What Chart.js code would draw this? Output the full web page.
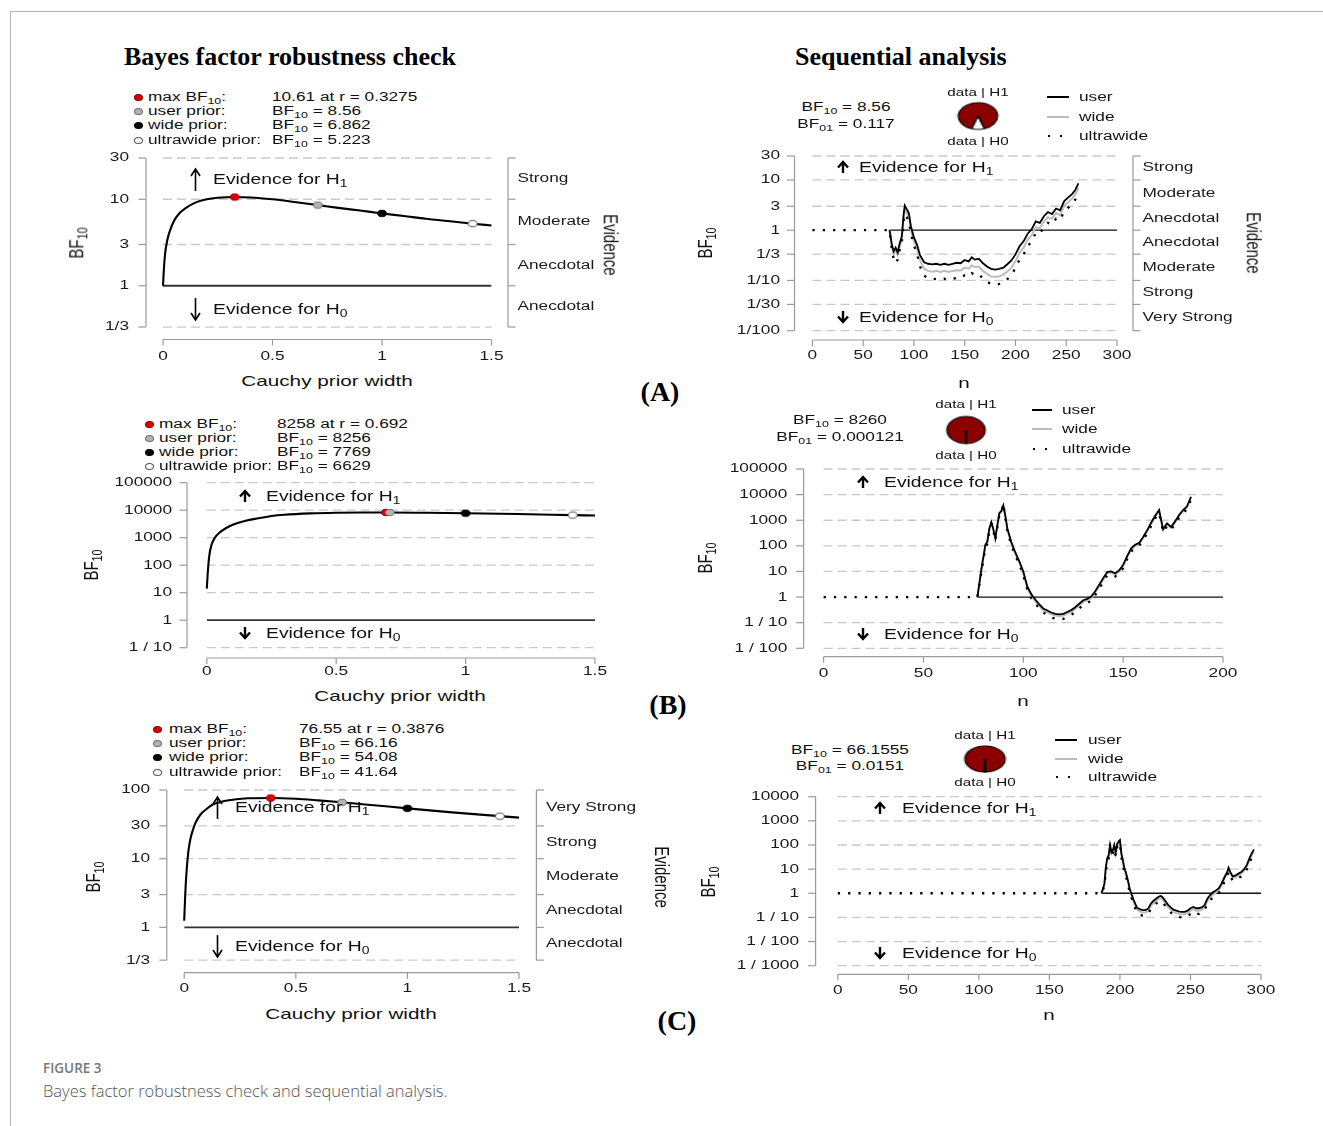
<!DOCTYPE html>
<html>
<head>
<meta charset="utf-8">
<title>Bayes factor robustness check and sequential analysis</title>
<script src="https://cdn.jsdelivr.net/npm/chart.js"></script>
<style>
  body { margin: 0; background: #fff; }
  #page { position: relative; width: 1323px; height: 1126px; overflow: hidden; background: #fff; }
  #page canvas { position: absolute; }
  .t { position: absolute; width: 0; height: 0; }
  .t span { position: absolute; left: 0; top: 0; white-space: nowrap; transform-origin: 0 0; line-height: 1.2; }
  sub { font-size: 72%; vertical-align: -0.28em; line-height: 0; }
  .frame-top { position: absolute; left: 10px; top: 11px; width: 1313px; height: 0; border-top: 1px solid #b3b3b3; }
  .frame-left { position: absolute; left: 10px; top: 11px; width: 0; height: 1115px; border-left: 1px solid #b3b3b3; }
</style>
</head>
<body>
<div id="page">
  <div class="frame-top"></div>
  <div class="frame-left"></div>
</div>
<script>
// ---- robustness check: BF10 against Cauchy prior width r ----
const rA = [0, 0.005, 0.01, 0.02, 0.03, 0.05, 0.075, 0.1, 0.15, 0.2, 0.25, 0.3275, 0.4, 0.5, 0.6, 0.707, 0.8, 0.9, 1.0, 1.1, 1.2, 1.3, 1.414, 1.5];
const bfA = [1, 1.7, 2.4, 3.4, 4.2, 5.6, 6.9, 7.8, 9.2, 10.0, 10.4, 10.61, 10.5, 10.0, 9.3, 8.56, 7.95, 7.4, 6.862, 6.4, 5.95, 5.6, 5.223, 4.97];
const rB = [0, 0.004, 0.01, 0.018, 0.03, 0.05, 0.075, 0.1, 0.15, 0.2, 0.25, 0.3, 0.4, 0.5, 0.6, 0.692, 0.707, 0.85, 1.0, 1.2, 1.414, 1.5];
const bfB = [14, 58, 235, 540, 960, 1550, 2250, 2950, 4150, 5100, 6150, 6850, 7650, 8050, 8220, 8258, 8256, 8050, 7769, 7250, 6629, 6400];
const rC = [0, 0.005, 0.011, 0.019, 0.028, 0.037, 0.05, 0.073, 0.1, 0.126, 0.16, 0.2, 0.285, 0.3876, 0.5, 0.6, 0.707, 0.85, 1.0, 1.2, 1.414, 1.5];
const bfC = [1.25, 3.2, 6.8, 13, 19.5, 25, 33, 44, 53, 61, 66.5, 71, 75.8, 76.55, 74.6, 70.7, 66.16, 60, 54.08, 47.3, 41.64, 39.6];

// marked priors: max, user, wide, ultrawide
const priorNames = ['max BF<sub>10</sub>:', 'user prior:', 'wide prior:', 'ultrawide prior:'];
const ptRA = [0.3275, 0.707, 1, 1.414];
const ptBfA = [10.61, 8.56, 6.862, 5.223];
const ptRB = [0.692, 0.707, 1, 1.414];
const ptBfB = [8258, 8256, 7769, 6629];
const ptRC = [0.3876, 0.707, 1, 1.414];
const ptBfC = [76.55, 66.16, 54.08, 41.64];

// ---- sequential analysis: BF10 against n ----
const nA = [0, 76, 78, 80, 82, 84, 86, 88, 90, 91, 93, 95, 97, 100, 103, 106, 110, 114, 118, 122, 126, 130, 134, 138, 142, 146, 150, 154, 157, 160, 164, 168, 172, 176, 180, 184, 188, 192, 196, 200, 204, 208, 212, 216, 220, 224, 228, 232, 236, 240, 244, 248, 252, 256, 259, 262];
const userA = [null, 1, 0.55, 0.38, 0.45, 0.36, 0.55, 0.75, 2.2, 3.1, 2.6, 2.2, 1.2, 0.72, 0.52, 0.32, 0.23, 0.215, 0.21, 0.215, 0.205, 0.215, 0.205, 0.215, 0.225, 0.22, 0.255, 0.24, 0.29, 0.26, 0.27, 0.22, 0.19, 0.17, 0.165, 0.17, 0.18, 0.21, 0.25, 0.33, 0.48, 0.6, 0.85, 1.05, 1.5, 1.4, 1.9, 2.3, 2.1, 2.7, 2.5, 3.8, 4.5, 5.3, 6.4, 8.56];
const wideA = [null, 1, 0.5, 0.33, 0.4, 0.32, 0.48, 0.65, 1.9, 2.6, 2.2, 1.8, 1.0, 0.6, 0.42, 0.25, 0.17, 0.155, 0.15, 0.155, 0.148, 0.155, 0.148, 0.155, 0.16, 0.158, 0.18, 0.172, 0.2, 0.185, 0.19, 0.155, 0.135, 0.12, 0.118, 0.12, 0.13, 0.15, 0.18, 0.24, 0.35, 0.45, 0.65, 0.8, 1.15, 1.1, 1.5, 1.8, 1.7, 2.2, 2.0, 3.1, 3.6, 4.3, 5.2, 6.86];
const ultraA = [1, 1, 0.45, 0.27, 0.22, 0.26, 0.4, 0.55, 1.6, 2.1, 1.8, 1.5, 0.85, 0.5, 0.34, 0.19, 0.125, 0.11, 0.105, 0.108, 0.103, 0.108, 0.102, 0.108, 0.112, 0.11, 0.127, 0.12, 0.14, 0.13, 0.135, 0.108, 0.094, 0.085, 0.082, 0.085, 0.092, 0.106, 0.13, 0.175, 0.26, 0.33, 0.48, 0.6, 0.88, 0.85, 1.15, 1.4, 1.3, 1.7, 1.6, 2.4, 2.8, 3.4, 4.1, 5.22];
const refA = [76, 300];

const nB = [0, 77, 79, 81, 82, 83, 84, 85, 86, 87, 88, 89, 90, 91, 92, 93, 94, 96, 98, 100, 102, 104, 106, 108, 110, 112, 114, 116, 118, 120, 122, 124, 126, 128, 130, 132, 134, 136, 138, 140, 142, 144, 146, 148, 150, 152, 154, 156, 158, 160, 162, 164, 166, 168, 170, 172, 174, 176, 178, 180, 182, 184];
const userB = [null, 1, 12, 110, 150, 480, 850, 450, 200, 650, 1900, 2300, 3800, 1500, 480, 260, 140, 55, 25, 10, 2.6, 1.3, 0.8, 0.52, 0.36, 0.3, 0.25, 0.22, 0.21, 0.22, 0.26, 0.31, 0.4, 0.55, 0.75, 0.85, 1.05, 1.7, 3, 5.5, 9.5, 10, 8.5, 11, 18, 40, 80, 110, 130, 220, 400, 800, 1500, 2500, 450, 750, 550, 900, 1600, 2500, 3500, 8260];
const wideB = [null, 1, 11, 100, 135, 430, 780, 400, 180, 600, 1750, 2100, 3500, 1350, 430, 230, 125, 48, 22, 8.5, 2.3, 1.15, 0.68, 0.45, 0.31, 0.25, 0.21, 0.19, 0.18, 0.19, 0.22, 0.26, 0.34, 0.47, 0.65, 0.74, 0.92, 1.5, 2.6, 4.8, 8.5, 9, 7.6, 10, 16, 36, 72, 100, 118, 200, 360, 720, 1350, 2250, 400, 680, 500, 820, 1450, 2250, 3150, 7769];
const ultraB = [1, 1, 9, 85, 120, 380, 700, 380, 160, 520, 1600, 2000, 4500, 1200, 380, 200, 105, 42, 19, 7, 1.9, 0.9, 0.55, 0.36, 0.25, 0.2, 0.16, 0.145, 0.135, 0.14, 0.17, 0.2, 0.26, 0.36, 0.5, 0.58, 0.72, 1.2, 2.1, 3.9, 7, 7.5, 6.4, 8.5, 13.5, 30, 60, 85, 100, 170, 300, 600, 1150, 1900, 340, 580, 420, 700, 1250, 1900, 2700, 6629];
const refB = [77, 200];

const nC = [0, 187, 189, 190, 191, 192, 193, 194, 195, 196, 197, 198, 199, 200, 201, 202, 203, 204, 205, 206, 207, 208, 210, 212, 214, 216, 218, 220, 222, 224, 226, 228, 229, 230, 232, 234, 236, 238, 240, 242, 244, 246, 248, 250, 252, 254, 256, 258, 260, 262, 264, 266, 268, 270, 272, 274, 276, 277, 278, 280, 282, 284, 286, 288, 290, 292, 294, 295];
const userC = [null, 1, 2.5, 12, 28, 38, 100, 50, 60, 100, 50, 110, 140, 160, 45, 25, 12, 8, 5, 2.8, 1.5, 1.0, 0.48, 0.26, 0.22, 0.2, 0.2, 0.23, 0.38, 0.5, 0.62, 0.75, 0.78, 0.7, 0.5, 0.34, 0.26, 0.21, 0.19, 0.175, 0.17, 0.17, 0.19, 0.24, 0.27, 0.24, 0.24, 0.26, 0.32, 0.6, 0.85, 1.1, 1.3, 1.6, 2.5, 4.5, 7.5, 11.5, 8, 5, 5.5, 6.5, 7.5, 10, 15, 30, 52, 66.16];
const wideC = [null, 1, 2.3, 10, 24, 33, 85, 43, 52, 85, 43, 95, 120, 140, 38, 21, 10, 6.8, 4.2, 2.4, 1.3, 0.85, 0.4, 0.21, 0.175, 0.16, 0.16, 0.185, 0.3, 0.4, 0.5, 0.6, 0.62, 0.56, 0.4, 0.27, 0.21, 0.17, 0.15, 0.14, 0.135, 0.135, 0.15, 0.19, 0.22, 0.19, 0.19, 0.21, 0.26, 0.48, 0.68, 0.88, 1.05, 1.3, 2.1, 3.8, 6.4, 9.8, 6.8, 4.3, 4.7, 5.5, 6.4, 8.5, 12.8, 25, 44, 54.08];
const ultraC = [1, 1, 2, 8, 19, 27, 70, 35, 43, 70, 35, 80, 100, 120, 30, 17, 8, 5.5, 3.4, 1.9, 1.05, 0.7, 0.32, 0.16, 0.13, 0.12, 0.12, 0.14, 0.23, 0.31, 0.39, 0.46, 0.48, 0.43, 0.31, 0.21, 0.16, 0.13, 0.115, 0.105, 0.1, 0.1, 0.11, 0.14, 0.17, 0.14, 0.14, 0.16, 0.2, 0.37, 0.52, 0.68, 0.82, 1.0, 1.6, 2.9, 5, 7.8, 5.2, 3.3, 3.6, 4.3, 5, 6.6, 10, 19.5, 34, 41.64];
const refC = [187, 300];

const seqBF10 = ['8.56', '8260', '66.1555'];
const seqBF01 = ['0.117', '0.000121', '0.0151'];

// ---- ticks ----
const widthTicks = [0, 0.5, 1, 1.5];
const widthLabels = ['0', '0.5', '1', '1.5'];
const n300Ticks = [0, 50, 100, 150, 200, 250, 300];
const n300Labels = ['0', '50', '100', '150', '200', '250', '300'];
const n200Ticks = [0, 50, 100, 150, 200];
const n200Labels = ['0', '50', '100', '150', '200'];
const yTicksAL = [1 / 3, 1, 3, 10, 30];
const yLabelsAL = ['1/3', '1', '3', '10', '30'];
const yTicksAR = [1 / 100, 1 / 30, 1 / 10, 1 / 3, 1, 3, 10, 30];
const yLabelsAR = ['1/100', '1/30', '1/10', '1/3', '1', '3', '10', '30'];
const yTicksBL = [0.1, 1, 10, 100, 1000, 10000, 100000];
const yLabelsBL = ['1 / 10', '1', '10', '100', '1000', '10000', '100000'];
const yTicksBR = [0.01, 0.1, 1, 10, 100, 1000, 10000, 100000];
const yLabelsBR = ['1 / 100', '1 / 10', '1', '10', '100', '1000', '10000', '100000'];
const yTicksCL = [1 / 3, 1, 3, 10, 30, 100];
const yLabelsCL = ['1/3', '1', '3', '10', '30', '100'];
const yTicksCR = [0.001, 0.01, 0.1, 1, 10, 100, 1000, 10000];
const yLabelsCR = ['1 / 1000', '1 / 100', '1 / 10', '1', '10', '100', '1000', '10000'];
const evidenceAL = ['Anecdotal', 'Anecdotal', 'Moderate', 'Strong'];
const evidenceAR = ['Very Strong', 'Strong', 'Moderate', 'Anecdotal', 'Anecdotal', 'Moderate', 'Strong'];
const evidenceCL = ['Anecdotal', 'Anecdotal', 'Moderate', 'Strong', 'Very Strong'];

// ---- layout (page pixels) ----
const SX = 1.38;   // the panels are stretched horizontally
const SANS = '"Liberation Sans", Arial, Helvetica, sans-serif';
const SERIF = '"Liberation Serif", "Times New Roman", serif';
const page = document.getElementById('page');
const geo = {};

const LAY = {
  AL: { l: 163, t: 158, r: 491.5, b: 331, yAxis: 146, yLab: 129, xAxis: 339.5, xLab: 357, ev: 508 },
  AR: { l: 812.4, t: 156, r: 1117, b: 330.7, yAxis: 794.5, yLab: 780, xAxis: 340, xLab: 356, ev: 1133 },
  BL: { l: 206.8, t: 482.7, r: 595, b: 647.7, yAxis: 187, yLab: 172, xAxis: 658, xLab: 672 },
  BR: { l: 823.6, t: 469, r: 1223, b: 648.3, yAxis: 803.6, yLab: 787.3, xAxis: 656.7, xLab: 674 },
  CL: { l: 184.2, t: 790, r: 519, b: 963.3, yAxis: 166.8, yLab: 150, xAxis: 972.7, xLab: 989, ev: 536.4 },
  CR: { l: 837.8, t: 796.7, r: 1261, b: 965.7, yAxis: 815.6, yLab: 799, xAxis: 974.3, xLab: 990.7 }
};

function stretchText(ctx, s, x, y, align, size) {
  ctx.save();
  ctx.translate(x, y);
  ctx.scale(SX, 1);
  ctx.font = size + 'px ' + SANS;
  ctx.textAlign = align;
  ctx.textBaseline = 'middle';
  ctx.fillStyle = '#1a1a1a';
  ctx.fillText(s, 0, 0);
  ctx.restore();
}

// R-style axes: detached axis lines, dashed guides, evidence axis on the right
const rAxes = {
  id: 'rAxes',
  beforeDatasetsDraw(chart) {
    const g = geo[chart.canvas.id];
    const ctx = chart.ctx, a = chart.chartArea;
    const xs = chart.scales.x, ys = chart.scales.y;
    const ox = g.cx, oy = g.cy;
    const seg = (x1, y1, x2, y2) => { ctx.beginPath(); ctx.moveTo(x1, y1); ctx.lineTo(x2, y2); ctx.stroke(); };
    ctx.save();
    ctx.strokeStyle = '#c9c9c9';
    ctx.lineWidth = 1.3;
    ctx.setLineDash([9, 5]);
    g.yTicks.forEach(v => {
      if (v !== 1) { const y = ys.getPixelForValue(v); seg(a.left, y, a.right, y); }
    });
    ctx.setLineDash([]);
    ctx.strokeStyle = '#9a9a9a';
    ctx.lineWidth = 1.2;

    const yTop = ys.getPixelForValue(g.yTicks[g.yTicks.length - 1]);
    const yBot = ys.getPixelForValue(g.yTicks[0]);
    const yx = g.yAxis - ox;
    seg(yx, yTop, yx, yBot);
    g.yTicks.forEach((v, i) => {
      const y = ys.getPixelForValue(v);
      seg(yx - 7.5, y, yx, y);
      stretchText(ctx, g.yLabels[i], g.yLab - ox, y, 'right', 12.5);
    });

    const xy = g.xAxis - oy;
    seg(xs.getPixelForValue(g.xTicks[0]), xy, xs.getPixelForValue(g.xTicks[g.xTicks.length - 1]), xy);
    g.xTicks.forEach((v, i) => {
      const x = xs.getPixelForValue(v);
      seg(x, xy, x, xy + 6);
      stretchText(ctx, g.xLabels[i], x, g.xLab - oy, 'center', 12.5);
    });

    if (g.evidence) {
      const ex = g.ev - ox;
      seg(ex, yTop, ex, yBot);
      g.yTicks.forEach(v => { const y = ys.getPixelForValue(v); seg(ex, y, ex + 7.5, y); });
      g.evidence.forEach((lab, i) => {
        const y = ys.getPixelForValue(Math.sqrt(g.yTicks[i] * g.yTicks[i + 1]));
        stretchText(ctx, lab, ex + 9.5, y, 'left', 12.5);
      });
    }
    ctx.restore();
  }
};

function pts(xs, ys) {
  return xs.map((x, i) => ({ x: x, y: ys[i] }));
}

function makePanel(id, L, cfg) {
  const cx = Math.floor(L.l - 125), cy = Math.floor(L.t - 14);
  const cw = Math.ceil((L.ev ? L.ev + 110 : L.r + 25) - cx);
  const ch = Math.ceil(L.b + 36 - cy);
  const cv = document.createElement('canvas');
  cv.id = id;
  cv.width = cw;
  cv.height = ch;
  cv.style.left = cx + 'px';
  cv.style.top = cy + 'px';
  page.appendChild(cv);
  geo[id] = Object.assign({ cx: cx, cy: cy }, L, cfg);
  return new Chart(cv, {
    type: 'line',
    data: { datasets: cfg.datasets },
    options: {
      responsive: false,
      animation: false,
      events: [],
      layout: { padding: { left: L.l - cx, top: L.t - cy, right: cx + cw - L.r, bottom: cy + ch - L.b } },
      scales: {
        x: { type: 'linear', display: false, min: cfg.xTicks[0], max: cfg.xTicks[cfg.xTicks.length - 1] },
        y: { type: 'logarithmic', display: false, min: cfg.yTicks[0], max: cfg.yTicks[cfg.yTicks.length - 1] }
      },
      plugins: { legend: { display: false }, tooltip: { enabled: false } }
    },
    plugins: [rAxes]
  });
}

function dotImg(fill, stroke) {
  const c = document.createElement('canvas');
  c.width = 12; c.height = 9;
  const g = c.getContext('2d');
  g.beginPath();
  g.ellipse(6, 4.5, 4.4, 3.2, 0, 0, 2 * Math.PI);
  g.fillStyle = fill; g.fill();
  g.lineWidth = 1; g.strokeStyle = stroke; g.stroke();
  return c;
}
const dotColors = [['#e00000', '#8a0000'], ['#b3b3b3', '#6e6e6e'], ['#000000', '#000000'], ['#ffffff', '#555555']];
const dotStyles = dotColors.map(c => dotImg(c[0], c[1]));

function robustSets(r, bf, ptR, ptBf) {
  return [
    { data: pts(ptR, ptBf), showLine: false, pointStyle: dotStyles, pointRadius: 4, clip: false },
    { data: pts(r, bf), borderColor: '#000', borderWidth: 2.1, pointRadius: 0, cubicInterpolationMode: 'monotone', clip: false },
    { data: pts([widthTicks[0], widthTicks[widthTicks.length - 1]], [1, 1]), borderColor: '#333', borderWidth: 1.8, pointRadius: 0 }
  ];
}

function seqSets(n, user, wide, ultra, ref) {
  return [
    { data: pts(n, user), borderColor: '#000', borderWidth: 1.8, pointRadius: 0, clip: false },
    { data: pts(n, ultra), borderColor: '#000', borderWidth: 2.3, borderDash: [2.3, 8], pointRadius: 0, clip: false },
    { data: pts(n, wide), borderColor: '#bcbcbc', borderWidth: 2, pointRadius: 0, clip: false },
    { data: pts(ref, [1, 1]), borderColor: '#111', borderWidth: 1.3, pointRadius: 0 }
  ];
}

makePanel('AL', LAY.AL, { xTicks: widthTicks, xLabels: widthLabels, yTicks: yTicksAL, yLabels: yLabelsAL, evidence: evidenceAL, datasets: robustSets(rA, bfA, ptRA, ptBfA) });
makePanel('AR', LAY.AR, { xTicks: n300Ticks, xLabels: n300Labels, yTicks: yTicksAR, yLabels: yLabelsAR, evidence: evidenceAR, datasets: seqSets(nA, userA, wideA, ultraA, refA) });
makePanel('BL', LAY.BL, { xTicks: widthTicks, xLabels: widthLabels, yTicks: yTicksBL, yLabels: yLabelsBL, datasets: robustSets(rB, bfB, ptRB, ptBfB) });
makePanel('BR', LAY.BR, { xTicks: n200Ticks, xLabels: n200Labels, yTicks: yTicksBR, yLabels: yLabelsBR, datasets: seqSets(nB, userB, wideB, ultraB, refB) });
makePanel('CL', LAY.CL, { xTicks: widthTicks, xLabels: widthLabels, yTicks: yTicksCL, yLabels: yLabelsCL, evidence: evidenceCL, datasets: robustSets(rC, bfC, ptRC, ptBfC) });
makePanel('CR', LAY.CR, { xTicks: n300Ticks, xLabels: n300Labels, yTicks: yTicksCR, yLabels: yLabelsCR, datasets: seqSets(nC, userC, wideC, ultraC, refC) });

// ---- html text ----
function txt(html, x, y, o) {
  o = o || {};
  const d = document.createElement('div');
  d.className = 't';
  d.style.left = x + 'px';
  d.style.top = y + 'px';
  const s = document.createElement('span');
  s.innerHTML = html;
  s.style.font = (o.weight || 'normal') + ' ' + (o.size || 12.5) + 'px ' + (o.font || SANS);
  s.style.color = o.color || '#111';
  const ax = o.align === 'c' ? -50 : (o.align === 'r' ? -100 : 0);
  s.style.transform = 'scaleX(' + (o.sx == null ? SX : o.sx) + ') rotate(' + (o.rot || 0) + 'deg) translate(' + ax + '%, -50%)';
  d.appendChild(s);
  page.appendChild(d);
}

function box(x, y, w, h, css) {
  const d = document.createElement('div');
  d.style.cssText = 'position:absolute;left:' + x + 'px;top:' + y + 'px;width:' + w + 'px;height:' + h + 'px;' + css;
  page.appendChild(d);
}

// arrow glyph next to "Evidence for ..."
function arrow(x, y, up, long) {
  const h = long ? 23 : 12, hw = long ? 4.5 : 5, hh = long ? 7 : 5.5, sw = long ? 1.6 : 2.4;
  const w = 2 * hw + 4, c = w / 2;
  const tip = up ? 1 : h - 1, base = up ? h : 0, head = up ? 1 + hh : h - 1 - hh;
  page.insertAdjacentHTML('beforeend',
    '<svg width="' + w + '" height="' + h + '" style="position:absolute;left:' + (x - c) + 'px;top:' + (y - h / 2) + 'px;overflow:visible">' +
    '<path d="M' + c + ' ' + base + 'L' + c + ' ' + tip + 'M' + (c - hw) + ' ' + head + 'L' + c + ' ' + tip + 'L' + (c + hw) + ' ' + head + '" ' +
    'fill="none" stroke="#000" stroke-width="' + sw + '" stroke-linejoin="miter"/></svg>');
}

txt('Bayes factor robustness check', 124, 57, { font: SERIF, size: 26, weight: 'bold', sx: 1, color: '#000' });
txt('Sequential analysis', 795, 57, { font: SERIF, size: 26, weight: 'bold', sx: 1, color: '#000' });
txt('(A)', 660, 392, { font: SERIF, size: 28, weight: 'bold', sx: 1, align: 'c', color: '#000' });
txt('(B)', 668, 705, { font: SERIF, size: 28, weight: 'bold', sx: 1, align: 'c', color: '#000' });
txt('(C)', 677, 1021, { font: SERIF, size: 28, weight: 'bold', sx: 1, align: 'c', color: '#000' });

function robustLegend(dx, tx, vx, ys, ptR, ptBf) {
  const vals = [ptBf[0] + ' at r = ' + ptR[0], 'BF<sub>10</sub> = ' + ptBf[1], 'BF<sub>10</sub> = ' + ptBf[2], 'BF<sub>10</sub> = ' + ptBf[3]];
  priorNames.forEach((nm, i) => {
    box(dx - 4.5, ys[i] - 3.3, 7, 5, 'border-radius:50%;background:' + dotColors[i][0] + ';border:1.2px solid ' + dotColors[i][1] + ';');
    txt(nm, tx, ys[i]);
    txt(vals[i], vx, ys[i]);
  });
}
robustLegend(138, 148, 272, [97, 111, 125, 140], ptRA, ptBfA);
robustLegend(149, 159, 277, [424.3, 438.3, 452, 466], ptRB, ptBfB);
robustLegend(157.7, 168.8, 299, [729, 743, 757.3, 772], ptRC, ptBfC);

function evidenceFor(ax, y1, y0, tx, long) {
  arrow(ax, y1, true, long);
  arrow(ax, y0, false, long);
  txt('Evidence for H<sub>1</sub>', tx, y1, { size: 14 });
  txt('Evidence for H<sub>0</sub>', tx, y0, { size: 14 });
}
evidenceFor(195, 179, 309, 213, true);
evidenceFor(843, 167, 317, 859, false);
evidenceFor(245, 495.7, 633, 266.4, false);
evidenceFor(863, 481.7, 634.3, 884.4, false);
evidenceFor(217.4, 807.3, 946, 235, true);
evidenceFor(880, 807.7, 952.7, 902, false);

// axis titles
const BF10 = 'BF<sub>10</sub>';
[[76, 243], [704, 243], [89.6, 565], [703.6, 558.3], [91.7, 876.7], [707.4, 881.7]].forEach(p => {
  txt(BF10, p[0], p[1], { size: 15, align: 'c', rot: -90 });
});
txt('Cauchy prior width', 327, 380, { size: 15, align: 'c' });
txt('Cauchy prior width', 400, 695, { size: 15, align: 'c' });
txt('Cauchy prior width', 351.4, 1012.7, { size: 15, align: 'c' });
txt('n', 964, 381.7, { size: 15, align: 'c' });
txt('n', 1023, 700, { size: 15, align: 'c' });
txt('n', 1049, 1014.3, { size: 15, align: 'c' });
txt('Evidence', 611, 245, { size: 15, align: 'c', rot: 90 });
txt('Evidence', 1254, 243, { size: 15, align: 'c', rot: 90 });
txt('Evidence', 663, 877, { size: 15, align: 'c', rot: 90 });

// sequential headers: BF text, pie of posterior probabilities, legend
function makePie(id, bf10, px, py, w, h) {
  const size = 32;
  const wrap = document.createElement('div');
  wrap.style.cssText = 'position:absolute;left:' + (px - size / 2) + 'px;top:' + (py - size / 2) + 'px;width:' + size + 'px;height:' + size + 'px;transform:scale(' + (w / size) + ',' + (h / size) + ');';
  const cv = document.createElement('canvas');
  cv.id = id; cv.width = size; cv.height = size;
  cv.style.left = '0px'; cv.style.top = '0px';
  wrap.appendChild(cv);
  page.appendChild(wrap);
  const p0 = 1 / (1 + bf10), p1 = bf10 / (1 + bf10);
  new Chart(cv, {
    type: 'pie',
    data: { datasets: [{ data: [p1, p0], backgroundColor: ['#8b0000', '#ffffff'], borderColor: '#000', borderWidth: 1.1 }] },
    options: {
      responsive: false, animation: false, events: [],
      rotation: -180 + 180 * p0,
      layout: { padding: 1.5 },
      plugins: { legend: { display: false }, tooltip: { enabled: false } }
    }
  });
}

const SEQ = [
  { bx: 846, by: [107, 124], pie: [978, 116, 45, 30.7], dy: [92, 141], lx: [1047, 1068.5], tx: 1079, ly: [97, 117, 136] },
  { bx: 839.5, by: [420, 437.3], pie: [966.2, 429.5, 43.6, 31], dy: [404.3, 455], lx: [1031.6, 1051.6], tx: 1061.8, ly: [410, 429.3, 449] },
  { bx: 850, by: [750, 765.7], pie: [985, 759, 46, 30], dy: [735, 782.3], lx: [1055, 1076.8], tx: 1087.9, ly: [740, 758.7, 777.3] }
];
SEQ.forEach((s, i) => {
  txt('BF<sub>10</sub> = ' + seqBF10[i], s.bx, s.by[0], { align: 'c' });
  txt('BF<sub>01</sub> = ' + seqBF01[i], s.bx, s.by[1], { align: 'c' });
  makePie('pie' + i, parseFloat(seqBF10[i]), s.pie[0], s.pie[1], s.pie[2], s.pie[3]);
  txt('data | H1', s.pie[0], s.dy[0], { size: 11, align: 'c' });
  txt('data | H0', s.pie[0], s.dy[1], { size: 11, align: 'c' });
  const lw = s.lx[1] - s.lx[0];
  box(s.lx[0], s.ly[0] - 1, lw, 2, 'background:#000;');
  box(s.lx[0], s.ly[1] - 1, lw, 2, 'background:#bcbcbc;');
  box(s.lx[0] + 1, s.ly[2] - 1.2, 2.4, 2.4, 'background:#000;');
  box(s.lx[0] + 13, s.ly[2] - 1.2, 2.4, 2.4, 'background:#000;');
  txt('user', s.tx, s.ly[0], { size: 12.5 });
  txt('wide', s.tx, s.ly[1], { size: 12.5 });
  txt('ultrawide', s.tx, s.ly[2], { size: 12.5 });
});

// caption
txt('FIGURE 3', 43, 1068, { font: '"Open Sans", sans-serif', size: 13.5, weight: 600, sx: 1, color: '#777' });
txt('Bayes factor robustness check and sequential analysis.', 43, 1090, { font: '"Open Sans", sans-serif', size: 16.5, weight: 300, sx: 1, color: '#555' });
</script>
</body>
</html>
